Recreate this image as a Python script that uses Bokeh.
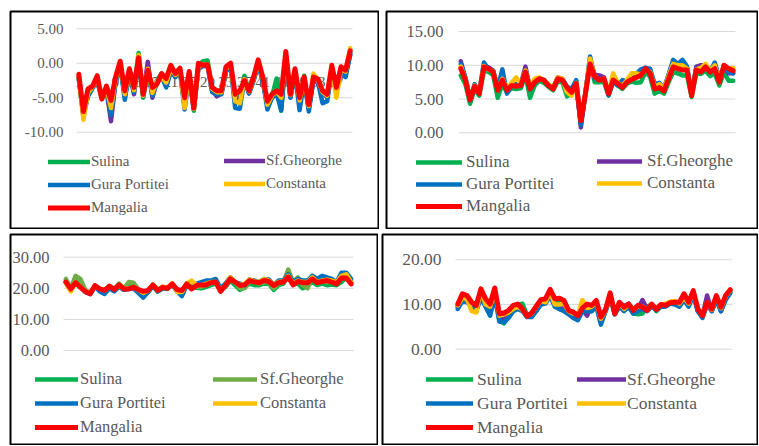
from bokeh.plotting import figure
from bokeh.models import Range1d, Legend, LegendItem
from bokeh.layouts import column, row
from bokeh.embed import file_html
from bokeh.resources import INLINE
from bokeh.core.properties import value

# ---------------- data ----------------
days = list(range(1, 61))
stations = ["Sulina", "Sf.Gheorghe", "Gura Portitei", "Constanta", "Mangalia"]
x_tick_labels = [1, 5, 9, 13, 17, 21, 25, 29, 33, 37, 41, 45, 49, 53, 57]

# panel 1 (top-left)
p1_ticks = [-10, -5, 0, 5]
p1_sulina = [-2.2, -7.6, -4.0, -3.5, -2.4, -5.0, -3.6, -7.0, -2.4, 0.0,
             -4.8, -1.0, -3.8, 1.5, -5.0, -0.5, -4.0, -2.5, -1.5, -2.8,
             -1.0, -1.8, -1.0, -6.0, -1.5, -6.9, -0.3, 0.3, 0.4, -3.8,
             -4.3, -4.2, -1.0, -0.3, -5.0, -5.2, -1.8, -4.2, -2.3, 0.0,
             -2.4, -6.0, -4.8, -2.2, -6.9, 1.2, -4.8, -1.2, -5.6, -1.8,
             -6.5, -2.2, -2.6, -4.3, -4.8, -0.8, -4.0, -1.0, -1.4, 1.5]
p1_sfgheorghe = [-2.0, -7.8, -4.5, -3.4, -2.6, -5.1, -3.8, -8.4, -2.6, -0.2,
                 -4.6, -1.2, -4.5, 0.6, -4.7, 0.2, -5.0, -2.6, -1.8, -2.9,
                 -1.1, -1.9, -1.1, -6.0, -1.6, -6.6, -0.5, -0.2, -0.3, -3.9,
                 -4.8, -4.4, -1.1, -0.4, -5.2, -5.4, -2.2, -4.3, -2.4, -0.1,
                 -2.5, -6.0, -4.9, -4.3, -6.2, 1.0, -4.9, -1.3, -5.8, -2.4,
                 -6.4, -2.4, -2.7, -4.3, -4.9, -0.9, -4.2, -1.1, -1.5, 1.2]
p1_gura = [-2.3, -7.5, -4.8, -3.6, -2.5, -5.0, -3.9, -7.5, -2.7, -0.3,
           -5.3, -1.3, -4.2, 0.5, -4.8, -1.2, -4.7, -2.7, -1.9, -3.5,
           -1.2, -2.0, -1.2, -6.7, -1.7, -6.6, -0.8, -0.4, -0.4, -4.2,
           -4.5, -4.5, -1.2, -0.5, -6.5, -6.6, -2.4, -4.4, -2.5, -0.2,
           -2.6, -6.7, -5.0, -4.4, -6.8, 0.9, -5.0, -1.4, -6.8, -2.5,
           -7.0, -2.5, -2.8, -5.8, -5.5, -1.0, -4.0, -1.2, -2.0, 1.3]
p1_constanta = [-1.9, -8.2, -4.3, -3.4, -2.2, -5.1, -3.6, -6.5, -2.3, 0.1,
                -4.5, -0.9, -3.9, 1.2, -4.7, -0.8, -4.3, -2.6, -2.0, -2.8,
                -0.8, -1.7, -0.9, -6.5, -1.4, -6.6, -0.4, -0.2, -0.2, -3.7,
                -4.2, -4.2, -0.8, -0.2, -5.5, -5.8, -2.3, -4.1, -2.2, 0.2,
                -2.2, -6.0, -4.7, -4.1, -5.0, 1.3, -4.6, -1.0, -5.4, -2.2,
                -6.2, -1.5, -2.5, -4.2, -4.7, -0.6, -5.0, -0.8, -1.2, 2.2]
p1_mangalia = [-1.6, -7.0, -3.7, -3.3, -1.8, -5.2, -3.3, -5.4, -2.0, 0.3,
               -4.0, -0.8, -3.5, 0.8, -4.5, -1.0, -3.5, -3.0, -1.5, -2.2,
               -0.3, -1.5, -0.7, -5.0, -1.2, -6.5, 0.0, -0.3, -0.2, -3.5,
               -4.0, -4.0, -0.5, 0.0, -4.5, -4.0, -2.5, -4.0, -2.0, 0.5,
               -2.0, -5.5, -4.5, -4.0, -4.5, 1.7, -4.5, -0.8, -5.0, -2.0,
               -6.0, -2.0, -2.3, -4.0, -4.5, -0.3, -3.5, -0.5, -1.0, 1.8]

# panel 2 (top-right)
p2_ticks = [0, 5, 10, 15]
p2_sulina = [8.5, 7.2, 4.3, 6.5, 5.5, 9.3, 9.0, 8.6, 5.2, 7.2,
             6.0, 6.6, 6.5, 6.6, 8.6, 5.2, 7.0, 7.7, 7.4, 6.8,
             6.3, 7.6, 7.5, 5.4, 5.8, 6.8, 1.5, 5.6, 10.5, 7.5,
             7.5, 7.6, 5.5, 7.6, 7.0, 6.5, 7.3, 7.6, 7.4, 7.5,
             9.0, 8.3, 5.8, 6.2, 5.8, 7.5, 9.0, 8.8, 8.5, 8.5,
             5.3, 8.8, 8.7, 9.2, 8.4, 8.8, 7.0, 9.0, 7.7, 7.7]
p2_sfgheorghe = [10.6, 8.0, 4.8, 7.0, 6.0, 9.8, 9.7, 9.2, 6.5, 8.2,
                 6.4, 7.2, 7.0, 7.2, 9.8, 6.6, 7.6, 8.0, 7.8, 7.0,
                 6.6, 8.0, 7.9, 6.8, 6.2, 7.6, 0.8, 6.0, 10.8, 8.6,
                 8.5, 8.2, 5.7, 8.2, 7.2, 6.9, 7.6, 8.2, 8.4, 8.8,
                 9.6, 9.0, 6.8, 7.0, 6.5, 8.5, 10.3, 9.8, 10.2, 9.6,
                 5.6, 9.8, 10.0, 10.0, 9.2, 10.0, 8.0, 9.8, 8.8, 8.8]
p2_gura = [10.2, 8.2, 5.0, 7.2, 6.0, 10.4, 9.4, 9.2, 6.6, 9.4,
           5.8, 7.0, 7.2, 7.0, 9.2, 6.4, 7.4, 8.0, 7.8, 7.0,
           6.6, 8.2, 8.0, 6.8, 6.5, 7.8, 1.2, 6.0, 11.3, 8.0,
           7.8, 8.0, 5.6, 7.6, 7.0, 7.8, 7.6, 8.4, 8.7, 9.4,
           9.6, 9.5, 7.2, 7.4, 6.5, 8.6, 10.8, 10.2, 10.8, 9.8,
           5.6, 9.5, 9.2, 9.8, 9.0, 10.4, 8.2, 9.6, 9.0, 8.8]
p2_constanta = [9.8, 7.9, 5.0, 7.0, 6.0, 9.9, 9.4, 9.1, 6.5, 8.0,
                6.5, 7.4, 8.2, 7.2, 9.2, 6.8, 8.0, 8.2, 7.8, 7.2,
                6.6, 8.2, 8.0, 6.0, 5.5, 7.4, 2.0, 6.0, 11.0, 8.3,
                7.8, 8.0, 5.9, 8.8, 7.4, 6.9, 7.8, 8.8, 8.8, 8.6,
                9.4, 9.0, 6.8, 7.2, 6.5, 8.4, 10.2, 10.0, 10.0, 9.5,
                5.6, 9.4, 9.6, 10.2, 9.2, 10.0, 7.8, 10.0, 9.5, 9.6]
p2_mangalia = [9.5, 7.8, 4.9, 6.9, 5.8, 9.75, 9.5, 9.0, 6.3, 7.8,
               6.3, 7.0, 6.9, 7.0, 9.0, 6.5, 7.5, 8.0, 7.8, 7.0,
               6.5, 8.0, 7.8, 6.7, 6.0, 7.3, 1.8, 5.8, 10.2, 8.3,
               7.8, 8.0, 5.8, 7.8, 7.3, 6.7, 7.5, 7.9, 8.2, 8.5,
               9.5, 8.8, 6.5, 6.7, 6.2, 8.0, 9.75, 9.5, 9.3, 9.3,
               5.5, 9.3, 9.0, 9.75, 9.0, 9.5, 7.5, 10.0, 9.5, 9.2]

# panel 3 (bottom-left)
p3_ticks = [0, 10, 20, 30]
p3_sulina = [22.5, 19.5, 22.5, 21.0, 19.0, 18.5, 20.5, 19.5, 19.0, 20.2,
             19.4, 20.8, 19.5, 21.0, 20.5, 19.2, 18.8, 18.8, 20.8, 19.0,
             20.0, 19.8, 21.2, 19.0, 18.5, 21.0, 20.5, 20.2, 20.0, 20.5,
             21.0, 21.5, 20.0, 20.5, 22.5, 21.0, 19.5, 20.5, 21.5, 21.0,
             21.0, 21.5, 21.5, 19.5, 21.0, 21.5, 24.5, 21.5, 21.5, 20.0,
             21.0, 22.0, 21.0, 21.5, 21.0, 21.2, 21.0, 22.0, 23.5, 22.0]
p3_sfgheorghe = [23.0, 20.0, 24.0, 23.0, 19.5, 18.5, 20.5, 19.8, 19.5, 20.5,
                 19.8, 21.5, 20.0, 22.0, 21.8, 19.5, 18.8, 19.0, 21.0, 19.5,
                 20.5, 20.0, 21.5, 19.5, 18.8, 21.5, 20.5, 20.5, 20.5, 21.0,
                 21.5, 22.5, 19.5, 21.0, 23.5, 22.0, 20.0, 20.0, 22.5, 22.0,
                 21.5, 22.0, 22.0, 20.0, 21.5, 22.0, 26.0, 22.0, 23.5, 21.0,
                 20.0, 24.0, 22.0, 22.5, 22.0, 22.5, 21.5, 24.0, 24.0, 22.5]
p3_gura = [22.0, 19.5, 22.0, 20.5, 18.8, 18.2, 20.5, 19.0, 18.2, 20.0,
           19.0, 20.5, 19.5, 19.8, 20.0, 18.5, 17.0, 18.8, 20.8, 19.0,
           20.0, 20.0, 21.0, 19.0, 17.5, 21.0, 20.0, 21.5, 22.0, 22.5,
           22.5, 23.0, 20.0, 21.5, 23.5, 22.0, 21.5, 21.0, 22.8, 22.5,
           22.0, 23.0, 22.8, 21.0, 22.5, 22.5, 24.5, 22.0, 23.0, 22.5,
           22.5, 24.0, 23.0, 24.0, 23.5, 23.0, 22.0, 25.0, 25.0, 23.0]
p3_constanta = [21.5, 19.0, 22.0, 20.5, 19.0, 18.5, 20.8, 19.8, 19.3, 20.7,
                19.8, 21.0, 19.8, 20.0, 20.3, 19.5, 18.5, 19.3, 21.2, 19.5,
                20.5, 20.2, 21.6, 18.8, 18.8, 21.5, 22.5, 21.0, 21.0, 21.5,
                22.0, 22.0, 19.2, 21.0, 23.5, 22.0, 21.0, 21.5, 22.8, 22.2,
                22.0, 23.0, 22.5, 21.2, 22.0, 22.2, 24.0, 21.5, 22.5, 22.0,
                22.0, 23.5, 22.0, 22.5, 22.8, 22.5, 22.0, 24.0, 24.5, 22.0]
p3_mangalia = [22.0, 19.8, 21.8, 20.3, 19.0, 18.2, 20.9, 19.8, 19.3, 20.7,
               19.6, 21.1, 19.8, 19.8, 20.3, 19.6, 19.0, 19.3, 21.1, 19.3,
               20.3, 20.0, 21.4, 19.6, 19.3, 21.4, 19.8, 20.9, 21.1, 21.1,
               21.8, 22.0, 19.0, 20.9, 23.0, 22.0, 20.9, 21.1, 22.5, 22.0,
               21.8, 22.5, 22.2, 20.9, 21.8, 22.0, 23.6, 21.1, 22.2, 21.8,
               21.8, 23.0, 21.8, 22.2, 22.5, 22.0, 21.4, 23.3, 23.3, 21.4]

# panel 4 (bottom-right)
p4_ticks = [0, 10, 20]
p4_sulina = [9.5, 11.5, 11.0, 10.0, 9.0, 12.5, 10.5, 9.0, 12.5, 6.5,
             5.8, 7.5, 9.0, 9.8, 10.2, 7.5, 7.8, 9.0, 10.5, 10.5,
             12.5, 10.5, 10.5, 10.0, 8.0, 7.5, 7.0, 8.8, 9.5, 8.5,
             10.0, 6.5, 8.5, 12.0, 8.0, 10.0, 8.8, 9.5, 8.0, 7.8,
             8.0, 9.5, 10.0, 8.5, 9.5, 9.8, 10.3, 10.5, 10.0, 12.0,
             10.0, 12.5, 8.5, 7.5, 10.0, 8.8, 11.5, 8.8, 11.5, 12.8]
p4_sfgheorghe = [9.5, 11.8, 11.5, 10.0, 9.2, 12.8, 10.8, 9.2, 12.8, 7.0,
                 6.5, 8.0, 9.2, 9.8, 8.8, 7.6, 8.0, 9.5, 10.8, 10.8,
                 12.8, 10.5, 9.0, 9.5, 8.2, 7.8, 7.5, 9.0, 7.5, 9.8,
                 10.5, 6.5, 8.8, 12.2, 8.3, 10.2, 9.6, 10.2, 8.5, 9.0,
                 11.0, 9.0, 9.8, 9.0, 10.0, 10.0, 10.5, 10.5, 10.0, 12.0,
                 10.0, 12.5, 8.5, 7.5, 12.0, 8.5, 11.5, 8.5, 11.5, 13.0]
p4_gura = [9.0, 10.8, 10.5, 9.5, 8.5, 11.5, 9.5, 7.5, 11.8, 6.2,
           6.0, 7.0, 8.5, 9.0, 8.5, 7.2, 7.2, 8.5, 10.0, 10.2,
           12.0, 9.5, 9.0, 8.5, 7.8, 7.0, 6.5, 8.5, 8.5, 8.5,
           9.5, 5.5, 8.5, 11.5, 7.8, 9.5, 8.5, 9.5, 8.0, 8.5,
           9.0, 8.5, 9.5, 8.8, 9.5, 9.5, 10.2, 10.0, 9.5, 11.0,
           9.5, 12.0, 8.5, 7.0, 10.0, 8.5, 11.0, 8.5, 11.0, 12.5]
p4_constanta = [9.8, 11.5, 11.2, 8.5, 8.2, 13.5, 10.0, 9.5, 13.0, 7.5,
                7.8, 8.2, 9.0, 9.5, 8.8, 7.5, 8.0, 9.5, 10.8, 10.5,
                12.8, 10.0, 10.0, 10.2, 8.5, 8.0, 7.8, 11.0, 9.2, 9.5,
                10.5, 6.8, 8.8, 12.3, 8.2, 10.3, 9.0, 10.0, 9.0, 9.5,
                9.5, 8.8, 10.0, 9.0, 10.0, 10.2, 10.6, 10.8, 10.2, 11.5,
                10.2, 12.8, 9.0, 7.5, 10.5, 8.8, 11.8, 9.2, 11.8, 13.2]
p4_mangalia = [10.1, 12.4, 12.0, 10.5, 9.8, 13.5, 11.3, 10.1, 13.7, 7.9,
               8.1, 8.7, 9.8, 10.1, 9.0, 7.4, 8.1, 9.6, 11.1, 11.3,
               13.4, 11.3, 11.4, 10.9, 8.7, 8.3, 7.5, 9.2, 10.1, 9.8,
               10.9, 7.2, 8.9, 12.6, 7.9, 10.5, 9.4, 10.1, 8.7, 9.8,
               9.4, 8.7, 10.1, 8.9, 10.0, 9.8, 10.4, 10.5, 10.5, 12.4,
               10.5, 13.1, 9.0, 7.5, 10.5, 9.0, 12.0, 9.4, 12.0, 13.3]

# ---------------- style ----------------
FONT = "'Liberation Serif', 'Times New Roman', serif"
GRAY = "#595959"
GRID = "#D9D9D9"
COLORS = ["#00B050", "#7030A0", "#0070C0", "#FFC000", "#FF0000"]
COLORS_P3 = ["#00B050", "#70AD47", "#0070C0", "#FFC000", "#FF0000"]
M = 1  # inset of frame inside panel box (border)


def make_panel(series, colors, ticks, W, H, FL, FR, T, B, standoff, leg,
               tick_fs, leg_fs, xlabels=False):
    # geometry in panel-box pixel coords; frame fills box minus M
    kx = (FR - FL) / len(days)
    ymin, ymax = ticks[0], ticks[-1]
    ky = (B - T) / (ymax - ymin)
    x0, x1 = 0.5, len(days) + 0.5
    xr = Range1d(x0 - (FL - M) / kx, x1 + (W - M - FR) / kx)
    yr = Range1d(ymin - (H - M - B) / ky, ymax + (T - M) / ky)
    p = figure(width=W, height=H, x_range=xr, y_range=yr, output_backend="svg",
               toolbar_location=None, x_axis_location=None, y_axis_location=None,
               min_border_left=M, min_border_right=M, min_border_top=M,
               min_border_bottom=M, outline_line_color="#000000",
               outline_line_width=2, background_fill_color="white",
               border_fill_color="white")
    p.grid.visible = False

    # horizontal gridlines at the tick values, spanning the plot area only
    p.segment(x0=[x0] * len(ticks), x1=[x1] * len(ticks), y0=ticks, y1=ticks,
              line_color=GRID, line_width=1)
    # y tick labels
    p.text(x=[x0] * len(ticks), y=ticks, text=[f"{t:.2f}" for t in ticks],
           text_font=value(FONT), text_font_size=tick_fs, text_color=GRAY,
           text_align="right", text_baseline="middle", x_offset=-standoff)

    if xlabels:
        p.text(x=x_tick_labels, y=[0] * len(x_tick_labels),
               text=[str(v) for v in x_tick_labels],
               text_font=value(FONT), text_font_size=tick_fs, text_color=GRAY,
               text_align="center", text_baseline="middle", y_offset=19)

    items = []
    for name, ys, col in zip(stations, series, colors):
        r = p.line(days, ys, line_color=col, line_width=5 if col == "#FF0000" else 4.5,
                   line_join="round", line_cap="round")
        items.append(LegendItem(label=name, renderers=[r]))

    (g1, w1, t1), (g2, w2, t2), (r1, r2, r3) = leg
    pitch = (r3 - r1) / 2
    for idx, (gx, gw, tx, rows_bottom) in enumerate(
            [(g1, w1, t1, r3), (g2, w2, t2, r2)]):
        sel = [items[0], items[2], items[4]] if idx == 0 else [items[1], items[3]]
        bottom = rows_bottom + pitch / 2
        lg = Legend(items=sel, location=(float(gx - M), float((H - M) - bottom)),
                    glyph_width=int(gw), glyph_height=int(round(pitch)),
                    label_height=int(round(pitch)), label_standoff=int(tx - gx - gw),
                    spacing=0, padding=0, margin=0,
                    border_line_color=None, background_fill_alpha=0,
                    label_text_font=FONT, label_text_font_size=leg_fs,
                    label_text_color=GRAY)
        p.add_layout(lg)
    return p


p1 = make_panel([p1_sulina, p1_sfgheorghe, p1_gura, p1_constanta, p1_mangalia], COLORS,
                p1_ticks, W=370, H=219, FL=67, FR=343, T=18.3, B=121.7, standoff=13,
                leg=((39, 42, 82), (215, 41, 257), (151, 173, 197)),
                tick_fs="15px", leg_fs="15px", xlabels=True)
p2 = make_panel([p2_sulina, p2_sfgheorghe, p2_gura, p2_constanta, p2_mangalia], COLORS,
                p2_ticks, W=373, H=219, FL=73, FR=350, T=21, B=122.3, standoff=15,
                leg=((31, 46, 81), (212, 45, 262), (151, 173, 196)),
                tick_fs="16.5px", leg_fs="17px")
p3 = make_panel([p3_sulina, p3_sfgheorghe, p3_gura, p3_constanta, p3_mangalia], COLORS_P3,
                p3_ticks, W=369, H=212, FL=54, FR=344, T=23.7, B=117, standoff=14,
                leg=((26, 43, 71), (204, 44, 251), (147, 170, 194)),
                tick_fs="16.5px", leg_fs="16.5px")
p4 = make_panel([p4_sulina, p4_sfgheorghe, p4_gura, p4_constanta, p4_mangalia], COLORS,
                p4_ticks, W=377, H=212, FL=74, FR=351, T=26.3, B=115.7, standoff=14,
                leg=((45, 47, 96), (196, 49, 246), (146, 170, 194)),
                tick_fs="17.5px", leg_fs="17.5px")

layout = column(row(p1, p2, spacing=6), row(p3, p4, spacing=3), spacing=4,
                margin=(10, 0, 0, 9))
open("out.html", "w").write(file_html(layout, INLINE))
